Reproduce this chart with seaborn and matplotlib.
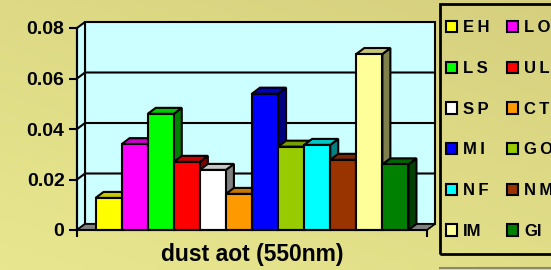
import numpy as np
import pandas as pd
import seaborn as sns
import matplotlib.pyplot as plt
from matplotlib.patches import Polygon, Rectangle
from matplotlib.lines import Line2D

# data
sites = ['EH', 'LO', 'LS', 'UL', 'SP', 'CT', 'MI', 'GO', 'NF', 'NM', 'IM', 'GI']
labels = ['E\u2009H', 'L\u2009O', 'L\u2009S', 'U\u2009L', 'S\u2009P', 'C\u2009T',
          'M\u2009I', 'G\u2009O', 'N\u2009F', 'N\u2009M', 'IM', 'GI']
values = [0.0127, 0.0340, 0.0460, 0.0270, 0.0238, 0.0143,
          0.0540, 0.0330, 0.0337, 0.0278, 0.0697, 0.0260]
colors = ['#ffff00', '#ff00ff', '#00ff00', '#ff0000', '#ffffff', '#ff9900',
          '#0000ff', '#99cc00', '#00ffff', '#993300', '#ffff99', '#008000']
category = 'dust aot (550nm)'
yticks = [0, 0.02, 0.04, 0.06, 0.08]
ytick_labels = ['0', '0.02', '0.04', '0.06', '0.08']

df = pd.DataFrame({'cat': category, 'site': sites, 'value': values})

plt.rcParams['font.family'] = ['Liberation Sans', 'DejaVu Sans']
plt.rcParams['font.weight'] = 'bold'

W, H = 551, 270
fig = plt.figure(figsize=(W / 100, H / 100), dpi=100)

# background gradient
bg = fig.add_axes([0, 0, 1, 1], zorder=-10)
gx, gy = np.meshgrid(np.linspace(0, 1, 60), np.linspace(0, 1, 60))
t = np.clip(0.6 * gy + 0.4 * (1 - gx), 0, 1)[..., None]
top = np.array([214, 208, 126]) / 255
low = np.array([232, 231, 143]) / 255
bg.imshow(top * (1 - t) + low * t, aspect='auto', extent=[0, 1, 0, 1], origin='upper')
bg.set_axis_off()

# front plane of the 3d chart
x0, x1, y0, y1 = 77, 427, 230, 28
ax = fig.add_axes([x0 / W, (H - y0) / H, (x1 - x0) / W, (y0 - y1) / H])
ax.set_xlim(-0.5, 0.5)
ax.set_ylim(0, 0.08)
ax.patch.set_visible(False)

dx = 8 / (x1 - x0) * 1.0
dy = 6 / (y0 - y1) * 0.08

# back wall, side wall and floor
ax.add_patch(Rectangle((-0.5 + dx, dy), 1, 0.08, facecolor='#ccffff',
                       edgecolor='black', lw=1.5, zorder=0.5, clip_on=False))
ax.add_patch(Polygon([(-0.5, 0), (-0.5 + dx, dy), (-0.5 + dx, 0.08 + dy), (-0.5, 0.08)],
                     facecolor='#ccffff', edgecolor='black', lw=1.5, zorder=0.5, clip_on=False))
for yv in yticks[1:-1]:
    ax.plot([-0.5, -0.5 + dx, 0.5 + dx], [yv, yv + dy, yv + dy], color='black',
            lw=1.5, zorder=0.6, clip_on=False)
ax.add_patch(Polygon([(-0.5, 0), (0.5, 0), (0.5 + dx, dy), (-0.5 + dx, dy)],
                     facecolor='#808080', edgecolor='black', lw=1.2, zorder=0.8, clip_on=False))

sns.barplot(data=df, x='cat', y='value', hue='site', palette=colors, saturation=1,
            width=0.894, edgecolor='black', linewidth=1.5, ax=ax)

handles, _ = ax.get_legend_handles_labels()
ax.get_legend().remove()

# 3d faces for each bar
bars = [b for c in ax.containers for b in c]
for i, b in enumerate(bars):
    bx, bw, bh = b.get_x(), b.get_width(), b.get_height()
    fc = np.array(b.get_facecolor()[:3])
    z = 2 + i
    b.set_zorder(z + 0.5)
    b.set_clip_on(False)
    ax.add_patch(Polygon([(bx + bw, 0), (bx + bw + dx, dy), (bx + bw + dx, bh + dy), (bx + bw, bh)],
                         facecolor=fc * 0.5, edgecolor='black', lw=1.5, zorder=z, clip_on=False))
    ax.add_patch(Polygon([(bx, bh), (bx + bw, bh), (bx + bw + dx, bh + dy), (bx + dx, bh + dy)],
                         facecolor=fc * 0.78, edgecolor='black', lw=1.5, zorder=z, clip_on=False))

# axes styling
for s in ['top', 'right']:
    ax.spines[s].set_visible(False)
ax.spines['left'].set_linewidth(1.5)
ax.spines['bottom'].set_linewidth(1.5)
ax.spines['left'].set_zorder(30)
ax.spines['bottom'].set_zorder(30)
ax.set_yticks(yticks)
ax.set_yticklabels(ytick_labels, fontsize=14, fontweight='bold')
ax.tick_params(axis='y', length=6, width=1.5, pad=3)
ax.set_xticks([0])
ax.set_xticklabels([category], fontsize=16.5, fontweight='bold')
ax.tick_params(axis='x', which='major', length=0, pad=9)
ax.set_xticks([-0.5, 0.5], minor=True)
ax.tick_params(axis='x', which='minor', length=5, width=1.5)
ax.set_xlabel('')
ax.set_ylabel('')

# legend: row-wise order in two columns
order = list(range(0, 12, 2)) + list(range(1, 12, 2))
leg = fig.legend([handles[k] for k in order], [labels[k] for k in order], ncol=2,
                 loc='upper left', bbox_to_anchor=(441 / W, 1 - 15.5 / H), borderaxespad=0,
                 fontsize=12, handlelength=0.66, handleheight=0.66, handletextpad=0.36,
                 labelspacing=1.54, columnspacing=1.05, borderpad=0.3, frameon=False)
for h in leg.legend_handles:
    h.set_edgecolor('black')
    h.set_linewidth(1.5)

fig.add_artist(Rectangle((440 / W, 1 - 254 / H), 0.3, 250 / H, transform=fig.transFigure,
                         facecolor='none', edgecolor='black', lw=2))
fig.add_artist(Line2D([440 / W, 1], [1 - 268 / H, 1 - 268 / H], color='#8a8a70', lw=1.5))

fig.savefig('out.png', dpi=100)
